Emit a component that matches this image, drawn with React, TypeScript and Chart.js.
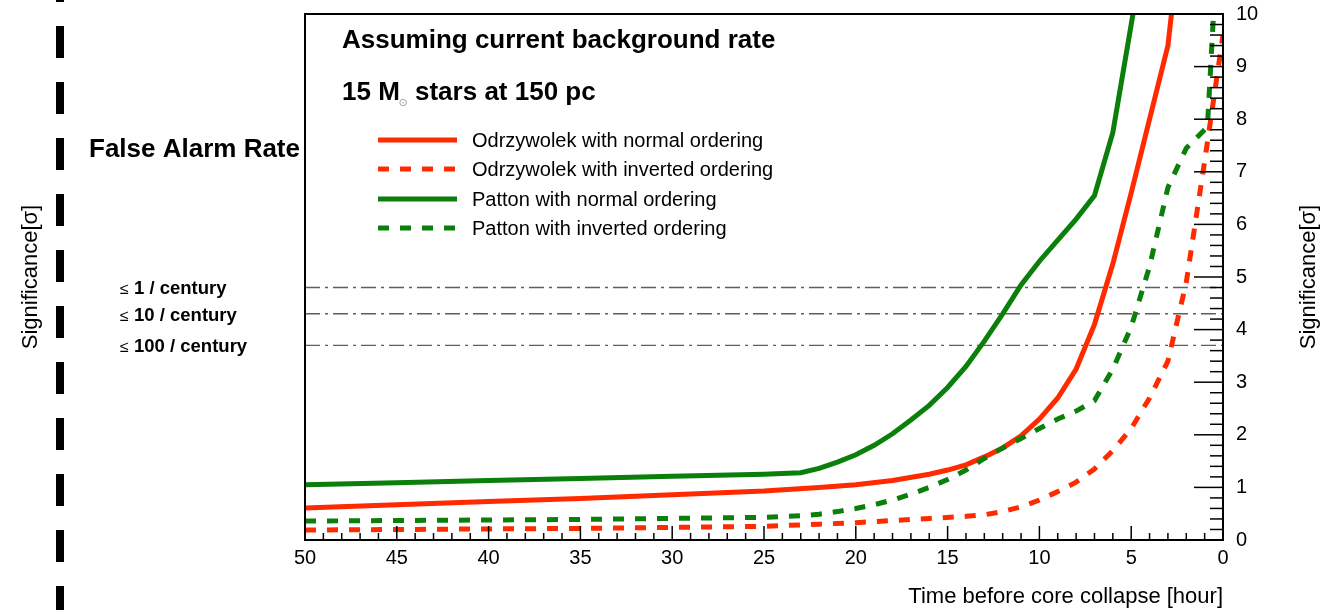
import React, { useEffect, useRef } from "react";
import { Chart, registerables } from "chart.js";

Chart.register(...registerables);

// ---- data (hours before collapse, significance in sigma) ----
const odrNormalHours = [50, 45, 40, 35, 30, 25, 22, 20, 18, 16, 15, 14, 13, 12, 11, 10, 9, 8, 7, 6, 5, 4, 3, 2];
const odrNormalSig = [0.61, 0.67, 0.73, 0.79, 0.86, 0.93, 1.0, 1.05, 1.13, 1.25, 1.33, 1.43, 1.58, 1.75, 1.98, 2.3, 2.7, 3.25, 4.1, 5.25, 6.6, 8.0, 9.4, 12.5];

const odrInvertedHours = [50, 45, 40, 35, 30, 25, 22, 20, 18, 16, 14, 13, 12, 11, 10, 9, 8, 7, 6, 5, 4, 3, 2, 1, 0];
const odrInvertedSig = [0.19, 0.2, 0.21, 0.22, 0.24, 0.26, 0.3, 0.33, 0.37, 0.41, 0.45, 0.48, 0.54, 0.63, 0.76, 0.92, 1.1, 1.35, 1.7, 2.12, 2.7, 3.4, 4.9, 7.2, 9.6];

const pattonNormalHours = [50, 45, 40, 35, 30, 25, 23, 22, 21, 20, 19, 18, 17, 16, 15, 14, 13, 12, 11, 10, 9, 8, 7, 6, 5, 4];
const pattonNormalSig = [1.05, 1.09, 1.13, 1.17, 1.21, 1.25, 1.28, 1.36, 1.48, 1.62, 1.8, 2.02, 2.28, 2.56, 2.9, 3.3, 3.78, 4.3, 4.85, 5.3, 5.7, 6.1, 6.55, 7.75, 9.8, 11.9];

const pattonInvertedHours = [50, 45, 40, 35, 30, 25, 23, 22, 21, 20, 19, 18, 17, 16, 15, 14, 13, 12, 11, 10, 9, 8, 7, 6, 5, 4, 3, 2, 1, 0.85, 0.5];
const pattonInvertedSig = [0.36, 0.37, 0.38, 0.39, 0.41, 0.43, 0.46, 0.49, 0.54, 0.6, 0.67, 0.76, 0.87, 1.0, 1.15, 1.33, 1.55, 1.75, 1.93, 2.12, 2.3, 2.45, 2.65, 3.25, 4.05, 5.2, 6.7, 7.45, 7.8, 7.85, 10.1];

const seriesLabels = [
  "Odrzywolek with normal ordering",
  "Odrzywolek with inverted ordering",
  "Patton with normal ordering",
  "Patton with inverted ordering",
];

const farLevels = [4.8, 4.3, 3.7];
const farLabels = ["1 / century", "10 / century", "100 / century"];
const farRange = [50, 0];

const xMin = 0;
const xMax = 50;
const yMin = 0;
const yMax = 10;

const RED = "#ff2a00";
const GREEN = "#0a7f0a";
const FONT = "'Liberation Sans', Arial, Helvetica, sans-serif";

function pts(h: number[], s: number[]) {
  return h.map((x, i) => ({ x, y: s[i] }));
}

const decorPlugin = {
  id: "decor",
  afterDraw(chart: any) {
    const ctx: CanvasRenderingContext2D = chart.ctx;
    const { left, right, top, bottom } = chart.chartArea;
    const xs = chart.scales.x;
    const ys = chart.scales.y;
    ctx.save();

    // frame
    ctx.strokeStyle = "#000";
    ctx.lineWidth = 2;
    ctx.setLineDash([]);
    ctx.strokeRect(left, top, right - left, bottom - top);

    // x ticks (inside)
    ctx.lineWidth = 1.5;
    for (let h = xMin; h <= xMax; h++) {
      const px = xs.getPixelForValue(h);
      const len = h % 5 === 0 ? 14 : 7;
      ctx.beginPath();
      ctx.moveTo(px, bottom);
      ctx.lineTo(px, bottom - len);
      ctx.stroke();
    }
    // right y ticks (inside)
    for (let k = 0; k <= (yMax - yMin) * 5; k++) {
      const v = yMin + k / 5;
      const py = ys.getPixelForValue(v);
      const len = k % 5 === 0 ? 29 : 13;
      ctx.beginPath();
      ctx.moveTo(right, py);
      ctx.lineTo(right - len, py);
      ctx.stroke();
    }

    // left dashed bar
    ctx.lineWidth = 8;
    ctx.setLineDash([32, 24]);
    ctx.lineDashOffset = 30;
    ctx.beginPath();
    ctx.moveTo(60, 0);
    ctx.lineTo(60, chart.height);
    ctx.stroke();
    ctx.setLineDash([]);
    ctx.lineDashOffset = 0;

    ctx.fillStyle = "#000";
    ctx.textBaseline = "alphabetic";
    ctx.textAlign = "left";

    // header texts
    ctx.font = `bold 26px ${FONT}`;
    ctx.fillText("Assuming current background rate", 342, 48);
    ctx.fillText("15 M", 342, 100);
    ctx.fillText("stars at 150 pc", 415, 100);
    ctx.fillStyle = "#999";
    ctx.font = `11px 'DejaVu Sans', sans-serif`;
    ctx.textAlign = "center";
    ctx.textBaseline = "middle";
    ctx.fillText("\u2299", 403, 103);

    ctx.fillStyle = "#000";
    ctx.textAlign = "left";
    ctx.textBaseline = "alphabetic";
    ctx.font = `bold 26px ${FONT}`;
    ctx.fillText("False Alarm Rate", 89, 157);

    // FAR labels
    const farBase = [294, 321, 352];
    farLabels.forEach((t, i) => {
      ctx.font = `16px ${FONT}`;
      ctx.fillText("\u2264", 120, farBase[i]);
      ctx.font = `bold 18.5px ${FONT}`;
      ctx.fillText(t, 134, farBase[i]);
    });

    // legend
    const legY = [140, 169, 199, 228];
    chart.data.datasets.slice(0, 4).forEach((ds: any, i: number) => {
      ctx.strokeStyle = ds.borderColor;
      ctx.lineWidth = 5;
      ctx.setLineDash(ds.borderDash && ds.borderDash.length ? [11, 11] : []);
      ctx.beginPath();
      ctx.moveTo(378, legY[i]);
      ctx.lineTo(467, legY[i]);
      ctx.stroke();
      ctx.setLineDash([]);
      ctx.fillStyle = "#000";
      ctx.font = `20px ${FONT}`;
      ctx.textBaseline = "middle";
      ctx.fillText(ds.label, 472, legY[i] + 1);
    });
    // mask legend overshoot beyond 456
    ctx.fillStyle = "#fff";
    ctx.fillRect(457, 130, 13, 105);

    // axis titles
    ctx.fillStyle = "#000";
    ctx.font = `22px ${FONT}`;
    ctx.textBaseline = "middle";
    ctx.textAlign = "right";
    ctx.fillText("Time before core collapse [hour]", right, 597);

    ctx.textAlign = "center";
    ctx.save();
    ctx.translate(31, 277);
    ctx.rotate(-Math.PI / 2);
    ctx.fillText("Significance[\u03c3]", 0, 0);
    ctx.restore();
    ctx.save();
    ctx.translate(1309, 277);
    ctx.rotate(-Math.PI / 2);
    ctx.fillText("Significance[\u03c3]", 0, 0);
    ctx.restore();

    ctx.restore();
  },
};

export default function App() {
  const ref = useRef<HTMLCanvasElement | null>(null);
  useEffect(() => {
    if (!ref.current) return;
    const farDatasets = farLevels.map((lv, i) => ({
      label: "far" + i,
      data: farRange.map((x) => ({ x, y: lv })),
      borderColor: "#5e5e5e",
      borderWidth: 1.4,
      borderDash: [15, 5, 3, 5],
      pointRadius: 0,
      order: 10,
    }));
    const chart = new Chart(ref.current, {
      type: "line",
      data: {
        datasets: [
          { label: seriesLabels[0], data: pts(odrNormalHours, odrNormalSig), borderColor: RED, borderWidth: 5, borderDash: [], pointRadius: 0, order: 4 },
          { label: seriesLabels[1], data: pts(odrInvertedHours, odrInvertedSig), borderColor: RED, borderWidth: 5, borderDash: [11, 11], pointRadius: 0, order: 3 },
          { label: seriesLabels[2], data: pts(pattonNormalHours, pattonNormalSig), borderColor: GREEN, borderWidth: 5, borderDash: [], pointRadius: 0, order: 2 },
          { label: seriesLabels[3], data: pts(pattonInvertedHours, pattonInvertedSig), borderColor: GREEN, borderWidth: 5, borderDash: [11, 11], pointRadius: 0, order: 1 },
          ...farDatasets,
        ] as any,
      },
      options: {
        animation: false,
        responsive: false,
        devicePixelRatio: 1,
        layout: { padding: { left: 305, top: 14, right: 0, bottom: 0 } },
        plugins: { legend: { display: false }, tooltip: { enabled: false } },
        elements: { line: { tension: 0, borderCapStyle: "butt" } },
        scales: {
          x: {
            type: "linear",
            position: "bottom",
            min: xMin,
            max: xMax,
            reverse: true,
            grid: { display: false, drawTicks: false },
            border: { display: false },
            ticks: { stepSize: 5, padding: 6, color: "#000", font: { family: FONT, size: 20 }, maxRotation: 0 },
            afterFit: (s: any) => { s.height = 70; s.paddingLeft = 0; s.paddingRight = 0; },
          },
          y: {
            type: "linear",
            position: "right",
            min: yMin,
            max: yMax,
            grid: { display: false, drawTicks: false },
            border: { display: false },
            ticks: { stepSize: 1, padding: 13, color: "#000", font: { family: FONT, size: 20 } },
            afterFit: (s: any) => { s.width = 99; s.paddingTop = 0; s.paddingBottom = 0; },
          },
        },
      },
      plugins: [decorPlugin],
    });
    return () => chart.destroy();
  }, []);
  return (
    <div style={{ position: "fixed", left: 0, top: 0, width: 1322, height: 610, background: "#fff" }}>
      <canvas ref={ref} width={1322} height={610} />
    </div>
  );
}
